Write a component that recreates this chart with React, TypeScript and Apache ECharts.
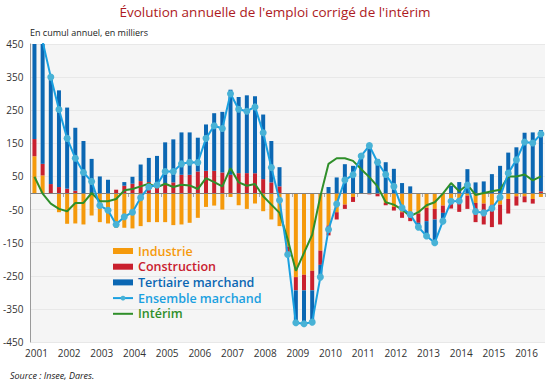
import { useEffect, useRef } from "react";
import * as echarts from "echarts";

const years = ["2001","2002","2003","2004","2005","2006","2007","2008","2009","2010","2011","2012","2013","2014","2015","2016"];
const quarterSuffix = ["T1", "T2", "T3", "T4"];
// 2001T1 .. 2016T3
const categories: string[] = years.flatMap((y) => quarterSuffix.map((q) => y + q)).slice(0, 63);

const industrie = [
  111, 53, -3, -58, -93, -92, -95, -68, -88, -92, -105, -105, -107, -100, -88, -88,
  -88, -97, -95, -90, -75, -42, -38, -50, -12, -37, -48, -32, -55, -80, -100, -162,
  -254, -247, -235, -174, -98, -58, -35, -12, -2, 0, -2, -30, -42, -58, -70, -62,
  -45, -48, -38, -18, -30, -8, -30, -32, -35, -35, -18, -10, -10, -18, -12,
];
const construction = [
  52, 35, 27, 18, 13, 7, 0, 0, 0, 0, 10, 22, 28, 36, 33, 32,
  30, 32, 55, 55, 65, 67, 67, 62, 55, 60, 60, 60, 42, 32, 20, -18,
  -40, -47, -59, -43, -30, -22, -13, -15, 0, -4, -8, -7, -11, -17, -15, -28,
  -40, -32, -22, -29, -27, -40, -58, -63, -68, -60, -44, -28, -18, -14, 5,
];
const tertiaire = [
  367, 370, 326, 292, 245, 190, 157, 103, 50, 40, 0, 11, 21, 50, 73, 80,
  123, 130, 128, 128, 102, 140, 174, 183, 257, 230, 235, 232, 195, 125, 58, -6,
  -98, -101, -96, -37, 18, 47, 87, 82, 114, 147, 103, 93, 73, 30, 20, -13,
  -45, -70, -25, 22, 33, 72, 32, 35, 57, 82, 122, 138, 182, 183, 185,
];
const ensemble = [
  530, 458, 350, 252, 165, 105, 62, 35, -38, -52, -95, -72, -58, -14, 18, 24,
  65, 65, 88, 93, 92, 165, 203, 195, 300, 253, 247, 260, 182, 77, -22, -186,
  -392, -395, -390, -254, -110, -33, 39, 55, 112, 143, 93, 56, 20, -45, -65, -103,
  -130, -150, -85, -25, -24, 24, -56, -60, -46, -13, 60, 100, 154, 151, 178,
];
const interim = [
  49, -2, -32, -48, -55, -30, -30, 0, -25, -25, -18, 8, 12, 20, 28, 17,
  28, 18, 25, 23, 12, 45, 33, 20, 75, 32, 22, 27, -10, -35, -60, -140,
  -235, -181, -126, -10, 88, 105, 105, 97, 72, 48, 20, -28, -35, -50, -70, -58,
  -37, -28, -2, 30, 5, 25, -6, 0, 5, 10, 50, 50, 56, 38, 50,
];

const yTickValues = [-450, -350, -250, -150, -50, 50, 150, 250, 350, 450];

const FONT = "'Open Sans', 'Noto Sans', sans-serif";
const C_IND = "#f59a0c";
const C_CON = "#c9202e";
const C_TER = "#0b67b3";
const C_ENS = "#1aa0e0";
const C_ENS_MK = "#48b2d6";
const C_INT = "#2f8f2a";

export default function App() {
  const ref = useRef<HTMLDivElement>(null);
  useEffect(() => {
    document.body.style.margin = "0";
    if (!ref.current) return;
    const chart = echarts.init(ref.current, undefined, { renderer: "svg" });
    const yMin = yTickValues[0];
    const yMax = yTickValues[yTickValues.length - 1];
    chart.setOption({
      animation: false,
      textStyle: { fontFamily: FONT },
      title: [
        {
          text: "Évolution annuelle de l'emploi corrigé de l'intérim",
          left: "center",
          top: 5,
          padding: 0,
          textStyle: { fontFamily: FONT, fontSize: 13.5, fontWeight: "normal", color: "#ad1a22" },
        },
        {
          text: "En cumul annuel, en milliers",
          left: 30,
          top: 28,
          padding: 0,
          textStyle: { fontFamily: FONT, fontSize: 9, fontWeight: "normal", color: "#1a1a1a" },
        },
        {
          text: "Source : Insee, Dares.",
          left: 10,
          top: 371,
          padding: 0,
          textStyle: { fontFamily: FONT, fontSize: 9, fontStyle: "italic", fontWeight: "normal", color: "#1a1a1a" },
        },
      ],
      grid: {
        left: 30,
        right: 5,
        top: 44,
        bottom: 43,
        show: true,
        backgroundColor: "#f5f5f5",
        borderWidth: 0,
        containLabel: false,
      },
      legend: {
        orient: "vertical",
        left: 112,
        top: 244,
        padding: 0,
        itemWidth: 20,
        itemHeight: 6,
        itemGap: 1.7,
        selectedMode: false,
        textStyle: { fontFamily: FONT, fontSize: 12.5, fontWeight: 600, lineHeight: 14 },
        data: [
          { name: "Industrie", icon: "rect", textStyle: { color: C_IND } },
          { name: "Construction", icon: "rect", textStyle: { color: C_CON } },
          { name: "Tertiaire marchand", icon: "rect", textStyle: { color: C_TER } },
          { name: "Ensemble marchand", textStyle: { color: C_ENS } },
          { name: "Intérim", icon: "path://M0,0L20,0L20,2L0,2Z", textStyle: { color: C_INT } },
        ],
      },
      xAxis: {
        type: "category",
        data: categories,
        boundaryGap: true,
        axisLine: { show: false },
        axisTick: { show: true, interval: 3, length: 4, lineStyle: { color: "#aaaaaa" } },
        axisLabel: {
          interval: 3,
          formatter: (v: string) => v.slice(0, 4),
          fontSize: 10,
          color: "#333333",
          margin: 6,
          padding: [0, 0, 0, 4],
        },
        splitLine: { show: false },
      },
      yAxis: [
        {
          type: "value",
          min: yMin,
          max: yMax,
          show: false,
          splitLine: { show: false },
        },
        {
          type: "value",
          position: "left",
          min: 0,
          max: yMax - yMin,
          interval: 100,
          axisLine: { show: true, lineStyle: { color: "#9a9a9a" } },
          axisTick: { show: false },
          axisLabel: {
            formatter: (v: number) => String(v + yMin),
            fontSize: 10,
            color: "#333333",
            margin: 7,
          },
          splitLine: { show: true, lineStyle: { color: "#e8e8e8", width: 1 } },
        },
      ],
      series: [
        {
          name: "Industrie",
          type: "bar",
          stack: "emploi",
          yAxisIndex: 0,
          barWidth: 4,
          data: industrie,
          itemStyle: { color: C_IND },
          markLine: {
            silent: true,
            symbol: "none",
            label: { show: false },
            lineStyle: { color: "#808080", type: "solid", width: 1 },
            data: [{ yAxis: 0 }],
            z: 3,
          },
        },
        {
          name: "Construction",
          type: "bar",
          stack: "emploi",
          yAxisIndex: 0,
          barWidth: 4,
          data: construction,
          itemStyle: { color: C_CON },
        },
        {
          name: "Tertiaire marchand",
          type: "bar",
          stack: "emploi",
          yAxisIndex: 0,
          barWidth: 4,
          data: tertiaire,
          itemStyle: { color: C_TER },
        },
        {
          name: "Intérim",
          type: "line",
          yAxisIndex: 0,
          data: interim,
          symbol: "none",
          lineStyle: { color: C_INT, width: 2 },
          itemStyle: { color: C_INT },
          z: 4,
        },
        {
          name: "Ensemble marchand",
          type: "line",
          yAxisIndex: 0,
          data: ensemble,
          symbol: "circle",
          symbolSize: 7,
          showAllSymbol: true,
          lineStyle: { color: C_ENS, width: 2 },
          itemStyle: { color: C_ENS_MK },
          z: 5,
        },
      ],
    });
    return () => chart.dispose();
  }, []);
  return <div ref={ref} style={{ width: 550, height: 385 }} />;
}
